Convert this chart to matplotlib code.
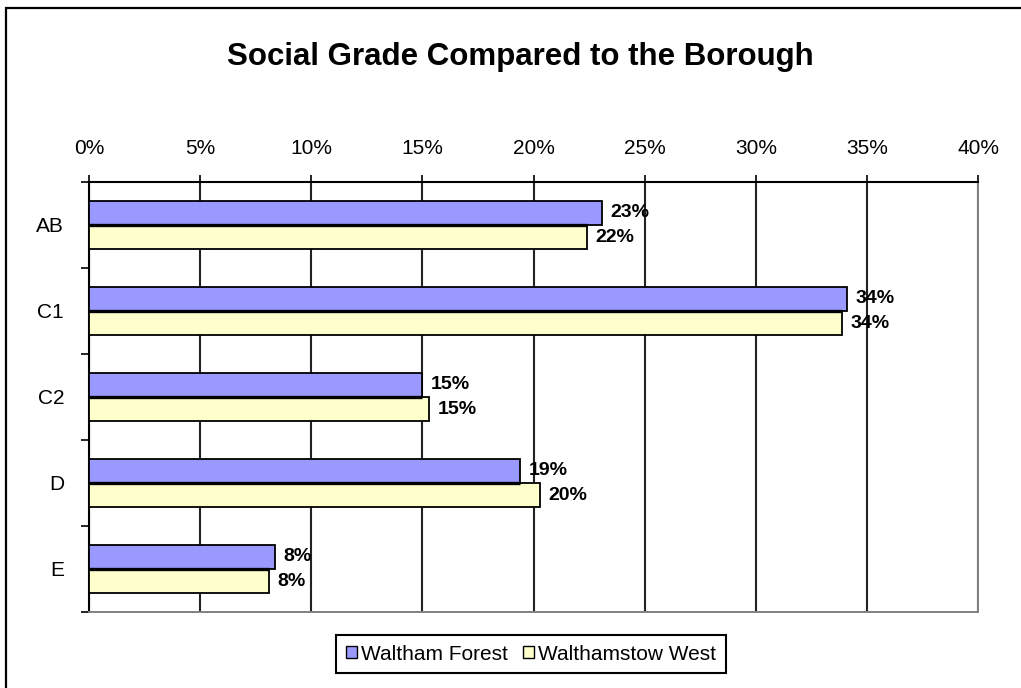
import numpy as np
import matplotlib
matplotlib.use("Agg")
import matplotlib.pyplot as plt
from matplotlib.patches import Rectangle, Patch
from matplotlib.ticker import FuncFormatter, FixedLocator

plt.rcParams['font.family'] = ['Liberation Sans', 'DejaVu Sans']

# data
grades = ["AB", "C1", "C2", "D", "E"]
waltham_forest = [0.231, 0.341, 0.150, 0.194, 0.0835]
walthamstow_west = [0.224, 0.339, 0.153, 0.203, 0.081]
series_names = ["Waltham Forest", "Walthamstow West"]
colors = ["#9999FF", "#FFFFCC"]

W, H = 1021, 688
fig = plt.figure(figsize=(W / 100, H / 100), dpi=100)
fig.patch.set_facecolor("white")

# outer chart border (only top/left visible in the reference)
fig.patches.append(Rectangle((6 / W, -0.1), 1.2, 1 - 8 / H + 0.1,
                             transform=fig.transFigure, fill=False,
                             edgecolor="black", linewidth=1.6))

ax = fig.add_axes([89 / W, 1 - 612 / H, (978 - 89) / W, (612 - 182) / H])

y = np.arange(len(grades))
bh = 0.28
ax.barh(y - bh / 2, waltham_forest, height=bh, color=colors[0],
        edgecolor="black", linewidth=1.3, zorder=3)
ax.barh(y + bh / 2, walthamstow_west, height=bh, color=colors[1],
        edgecolor="black", linewidth=1.3, zorder=3)
# the seam between the two bars of a grade is drawn heavier in the original
ax.hlines(y, 0, np.minimum(waltham_forest, walthamstow_west),
          color="black", linewidth=2.4, zorder=3.5)

# data labels
for vals, off in ((waltham_forest, -bh / 2), (walthamstow_west, bh / 2)):
    for i, v in enumerate(vals):
        ax.annotate(f"{round(v * 100)}%", (v, i + off), xytext=(6, 0),
                    textcoords="offset points", va="center", ha="left",
                    fontsize=14, fontweight="bold", zorder=4)

ax.set_xlim(0, 0.40)
ax.set_ylim(len(grades) - 0.5, -0.5)
ax.set_xticks(np.arange(0, 0.401, 0.05))
ax.xaxis.set_major_formatter(FuncFormatter(lambda v, p: f"{v * 100:.0f}%"))
ax.xaxis.tick_top()
ax.tick_params(axis="x", direction="out", length=5, width=1.2, pad=12,
               labelsize=15, colors="black")
ax.grid(axis="x", color="#222222", linewidth=1.5, zorder=1)

ax.set_yticks(y)
ax.set_yticklabels(grades)
ax.yaxis.set_minor_locator(FixedLocator(np.arange(-0.5, len(grades), 1.0)))
ax.tick_params(axis="y", which="major", length=0, pad=18, labelsize=15)
ax.tick_params(axis="y", which="minor", length=6, width=1.2, direction="out")

for s in ("top", "left"):
    ax.spines[s].set_color("black")
    ax.spines[s].set_linewidth(1.5)
for s in ("right", "bottom"):
    ax.spines[s].set_color("#808080")
    ax.spines[s].set_linewidth(1.4)

fig.text(520 / W, 1 - 57 / H, "Social Grade Compared to the Borough",
         ha="center", va="center", fontsize=22.5, fontweight="bold")

handles = [Patch(facecolor=c, edgecolor="black", linewidth=1.0) for c in colors]
leg = fig.legend(handles, series_names, loc="center",
                 bbox_to_anchor=(531 / W, 1 - 654 / H), ncol=2, fontsize=15,
                 handlelength=0.55, handleheight=0.55, handletextpad=0.2,
                 columnspacing=0.7, borderpad=0.45, fancybox=False,
                 framealpha=1, edgecolor="black")
leg.get_frame().set_linewidth(1.5)

fig.savefig("out.png", dpi=100)
